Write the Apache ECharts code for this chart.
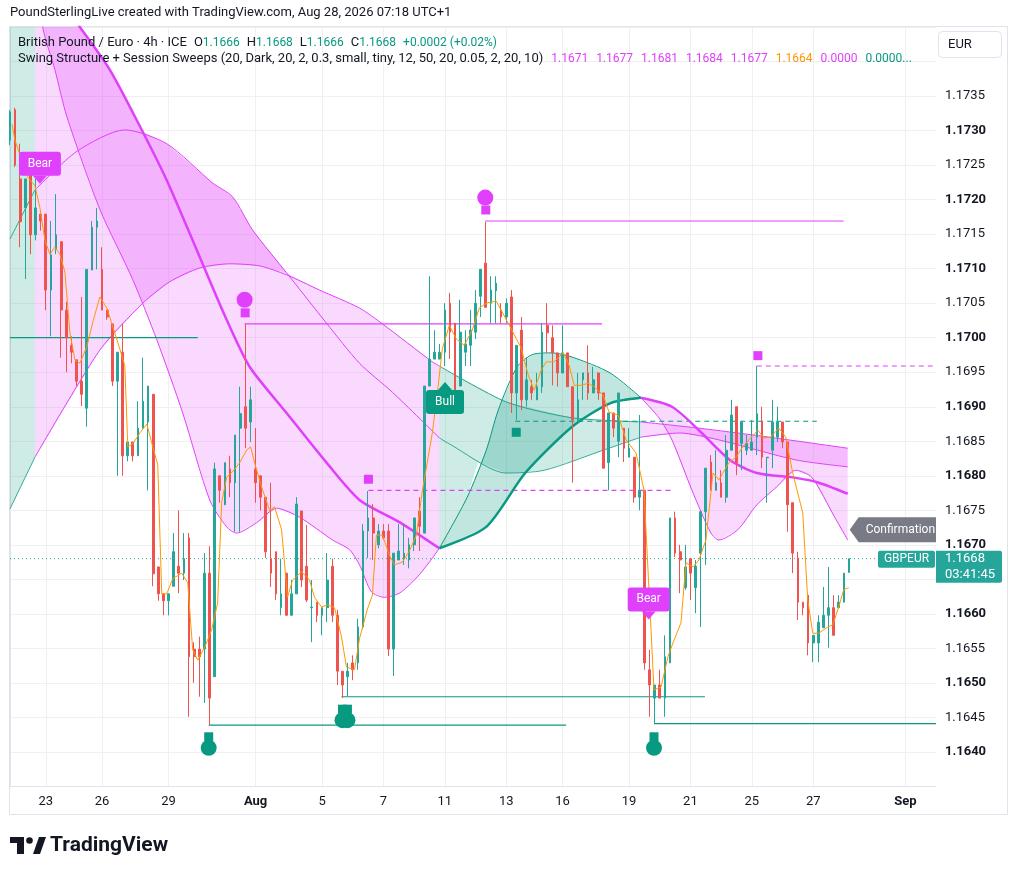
<!DOCTYPE html>
<html><head><meta charset="utf-8">
<script src="https://cdn.jsdelivr.net/npm/echarts/dist/echarts.min.js"></script>
<style>html,body{margin:0;padding:0;background:#fff}#c{width:1017px;height:875px}</style>
</head><body><div id="c"></div>
<script>
// ---------- DATA ----------
// x-axis tick labels (bar index -> label)
const tickIndex = [7, 18, 31, 48, 61, 73, 85, 97, 108, 121, 133, 145, 157, 175];
const tickText  = ['23','26','29','Aug','5','7','11','13','16','19','21','25','27','Sep'];
const barSlots = 182;
// 4h candles: [open, close, low, high]
const candles = [
[1.17286,1.17327,1.17279,1.17330],[1.17330,1.17250,1.17247,1.17333],[1.17230,1.17168,1.17131,1.17281],[1.17188,1.17230,1.17085,1.17230],
[1.17250,1.17149,1.17121,1.17250],[1.17149,1.17188,1.17141,1.17230],[1.17179,1.17169,1.17155,1.17179],[1.17179,1.17069,1.17040,1.17179],
[1.17069,1.17120,1.17002,1.17169],[1.17128,1.17149,1.17121,1.17208],[1.17139,1.17040,1.16971,1.17139],[1.17040,1.17000,1.16950,1.17052],
[1.16989,1.16979,1.16963,1.17002],[1.16968,1.16937,1.16930,1.16968],[1.16937,1.16918,1.16901,1.17059],[1.16898,1.17099,1.16871,1.17099],
[1.17098,1.17160,1.17098,1.17169],[1.17160,1.17169,1.17099,1.17188],[1.17099,1.17040,1.17040,1.17131],[1.17040,1.17030,1.17026,1.17040],
[1.17020,1.16937,1.16930,1.17020],[1.16937,1.16979,1.16800,1.16979],[1.16979,1.16829,1.16800,1.17020],[1.16829,1.16849,1.16821,1.16849],
[1.16849,1.16829,1.16821,1.16849],[1.16829,1.16869,1.16829,1.16908],[1.16869,1.16908,1.16869,1.16971],[1.16878,1.16930,1.16779,1.16930],
[1.16918,1.16658,1.16640,1.16918],[1.16668,1.16629,1.16619,1.16668],[1.16629,1.16619,1.16598,1.16629],[1.16619,1.16629,1.16598,1.16629],
[1.16640,1.16690,1.16640,1.16717],[1.16669,1.16659,1.16630,1.16750],[1.16659,1.16680,1.16649,1.16717],[1.16710,1.16538,1.16451,1.16717],
[1.16549,1.16538,1.16500,1.16559],[1.16549,1.16538,1.16480,1.16567],[1.16549,1.16659,1.16471,1.16688],[1.16659,1.16478,1.16439,1.16698],
[1.16509,1.16810,1.16509,1.16819],[1.16800,1.16779,1.16761,1.16800],[1.16758,1.16819,1.16758,1.16819],[1.16810,1.16790,1.16769,1.16829],
[1.16790,1.16859,1.16719,1.16859],[1.16869,1.16890,1.16719,1.16929],[1.16900,1.16869,1.16840,1.17020],[1.16878,1.16910,1.16849,1.16929],
[1.16810,1.16790,1.16761,1.16869],[1.16800,1.16769,1.16750,1.16800],[1.16769,1.16690,1.16681,1.16769],[1.16680,1.16659,1.16639,1.16790],
[1.16690,1.16629,1.16620,1.16690],[1.16609,1.16629,1.16598,1.16680],[1.16659,1.16598,1.16598,1.16659],[1.16598,1.16629,1.16598,1.16649],
[1.16629,1.16759,1.16629,1.16769],[1.16749,1.16649,1.16639,1.16749],[1.16669,1.16620,1.16617,1.16729],[1.16609,1.16610,1.16559,1.16649],
[1.16617,1.16598,1.16588,1.16617],[1.16598,1.16609,1.16569,1.16609],[1.16609,1.16649,1.16588,1.16688],[1.16669,1.16598,1.16588,1.16680],
[1.16598,1.16517,1.16497,1.16606],[1.16517,1.16497,1.16478,1.16517],[1.16509,1.16517,1.16480,1.16529],[1.16529,1.16519,1.16504,1.16540],
[1.16529,1.16581,1.16519,1.16593],[1.16581,1.16720,1.16578,1.16730],[1.16720,1.16739,1.16681,1.16778],[1.16739,1.16717,1.16678,1.16759],
[1.16700,1.16720,1.16695,1.16730],[1.16720,1.16710,1.16707,1.16730],[1.16720,1.16549,1.16539,1.16730],[1.16549,1.16688,1.16510,1.16688],
[1.16678,1.16691,1.16678,1.16730],[1.16681,1.16688,1.16671,1.16730],[1.16678,1.16700,1.16666,1.16710],[1.16700,1.16739,1.16691,1.16739],
[1.16749,1.16727,1.16691,1.16769],[1.16717,1.16930,1.16717,1.16930],[1.16930,1.16969,1.16930,1.17089],[1.16969,1.16979,1.16969,1.17011],
[1.16969,1.16979,1.16969,1.16991],[1.16979,1.17040,1.16959,1.17050],[1.17050,1.17008,1.16969,1.17065],[1.17021,1.16918,1.16916,1.17021],
[1.16930,1.17008,1.16930,1.17055],[1.16979,1.16991,1.16959,1.17011],[1.16989,1.17011,1.16959,1.17040],[1.17008,1.17050,1.16998,1.17069],
[1.17060,1.17099,1.17030,1.17099],[1.17108,1.17044,1.17044,1.17168],[1.17050,1.17069,1.17021,1.17089],[1.17068,1.17079,1.17021,1.17089],
[1.17040,1.17030,1.17021,1.17050],[1.17030,1.17050,1.17021,1.17057],[1.17059,1.16920,1.16891,1.17069],[1.16920,1.16989,1.16881,1.16989],
[1.17011,1.16910,1.16895,1.17030],[1.16910,1.16939,1.16900,1.16972],[1.16929,1.16920,1.16910,1.16939],[1.16910,1.16929,1.16910,1.16949],
[1.16929,1.17008,1.16920,1.17021],[1.17018,1.17007,1.16978,1.17050],[1.17000,1.16978,1.16931,1.17018],[1.16978,1.16949,1.16929,1.16978],
[1.16949,1.16978,1.16949,1.17018],[1.16978,1.16929,1.16929,1.16978],[1.16929,1.16881,1.16790,1.16929],[1.16878,1.16910,1.16878,1.16949],
[1.16939,1.16949,1.16910,1.16949],[1.16949,1.16920,1.16910,1.16989],[1.16920,1.16939,1.16920,1.16958],[1.16949,1.16920,1.16910,1.16949],
[1.16920,1.16811,1.16811,1.16920],[1.16819,1.16891,1.16779,1.16891],[1.16891,1.16869,1.16856,1.16891],[1.16850,1.16920,1.16827,1.16920],
[1.16869,1.16840,1.16820,1.16869],[1.16827,1.16840,1.16827,1.16869],[1.16827,1.16769,1.16761,1.16827],[1.16769,1.16779,1.16750,1.16888],
[1.16779,1.16529,1.16519,1.16779],[1.16519,1.16497,1.16451,1.16548],[1.16478,1.16497,1.16441,1.16497],[1.16497,1.16478,1.16478,1.16519],
[1.16478,1.16538,1.16451,1.16569],[1.16529,1.16739,1.16529,1.16739],[1.16739,1.16688,1.16682,1.16748],[1.16690,1.16678,1.16630,1.16700],
[1.16638,1.16668,1.16635,1.16700],[1.16680,1.16659,1.16620,1.16680],[1.16638,1.16669,1.16601,1.16678],[1.16688,1.16748,1.16581,1.16748],
[1.16748,1.16811,1.16671,1.16811],[1.16820,1.16779,1.16779,1.16830],[1.16779,1.16790,1.16779,1.16837],[1.16790,1.16769,1.16769,1.16808],
[1.16769,1.16837,1.16761,1.16859],[1.16837,1.16888,1.16837,1.16910],[1.16900,1.16819,1.16801,1.16900],[1.16847,1.16878,1.16808,1.16878],
[1.16837,1.16847,1.16830,1.16859],[1.16837,1.16849,1.16837,1.16881],[1.16856,1.16890,1.16830,1.16959],[1.16878,1.16827,1.16811,1.16900],
[1.16826,1.16827,1.16761,1.16827],[1.16837,1.16878,1.16811,1.16910],[1.16856,1.16878,1.16849,1.16900],[1.16878,1.16849,1.16840,1.16878],
[1.16849,1.16758,1.16719,1.16849],[1.16761,1.16688,1.16659,1.16761],[1.16681,1.16617,1.16591,1.16690],[1.16617,1.16609,1.16598,1.16617],
[1.16627,1.16558,1.16540,1.16627],[1.16558,1.16569,1.16530,1.16569],[1.16558,1.16588,1.16530,1.16598],[1.16580,1.16598,1.16580,1.16639],
[1.16598,1.16609,1.16551,1.16668],[1.16609,1.16569,1.16569,1.16627],[1.16609,1.16617,1.16609,1.16627],[1.16617,1.16659,1.16617,1.16659],
[1.1666,1.1668,1.1666,1.1668]
];
const lastPrice = 1.1668;

// fast average (orange): [bar index, price]
const fastLine = [[0.39,1.17309],[0.98,1.17286],[3.32,1.17234],[4.88,1.17220],[5.85,1.17188],[6.83,1.17141],[7.81,1.17121],[8.78,1.17131],[9.76,1.17121],[10.73,1.17095],[11.71,1.17007],[12.69,1.16968],[13.66,1.16963],[15.03,1.16987],[16.2,1.17023],[17.56,1.17059],[18.93,1.17043],[20.49,1.17007],[22.44,1.16960],[23.03,1.16842],[24.0,1.16846],[25.37,1.16862],[26.74,1.16875],[27.91,1.16842],[28.88,1.16816],[29.66,1.16629],[30.64,1.16629],[31.81,1.16651],[33.57,1.16659],[34.74,1.16645],[35.71,1.16548],[36.69,1.16533],[38.06,1.16552],[39.42,1.16577],[40.59,1.16616],[41.37,1.16761],[42.35,1.16798],[43.52,1.16806],[44.89,1.16819],[46.25,1.16837],[47.03,1.16842],[47.81,1.16819],[49.18,1.16784],[50.74,1.16750],[51.72,1.16755],[53.08,1.16722],[54.25,1.16624],[55.23,1.16649],[56.99,1.16661],[58.55,1.16649],[59.52,1.16624],[60.89,1.16610],[62.06,1.16613],[63.43,1.16609],[64.79,1.16567],[65.77,1.16523],[67.33,1.16519],[68.31,1.16564],[69.87,1.16607],[70.84,1.16627],[71.62,1.16714],[72.8,1.16714],[74.16,1.16685],[75.14,1.16671],[76.7,1.16675],[78.06,1.16691],[79.43,1.16714],[80.6,1.16778],[82.55,1.16862],[83.53,1.16920],[84.51,1.16984],[85.87,1.17018],[87.24,1.16998],[88.8,1.16989],[90.36,1.17011],[91.73,1.17043],[93.09,1.17050],[95.04,1.17053],[96.21,1.17037],[97.58,1.17018],[99.92,1.16985],[101.29,1.16946],[102.46,1.16924],[103.83,1.16953],[104.8,1.16965],[106.36,1.16965],[108.12,1.16978],[109.29,1.16960],[110.27,1.16931],[111.63,1.16931],[113.0,1.16934],[114.17,1.16929],[115.93,1.16917],[117.1,1.16892],[118.86,1.16888],[120.42,1.16852],[122.37,1.16833],[123.93,1.16779],[124.9,1.16635],[125.88,1.16490],[127.25,1.16494],[128.61,1.16538],[129.59,1.16558],[131.15,1.16587],[132.13,1.16674],[133.49,1.16668],[134.66,1.16678],[136.03,1.16707],[137.4,1.16804],[138.56,1.16794],[140.52,1.16819],[141.89,1.16827],[143.25,1.16842],[144.42,1.16852],[146.18,1.16866],[147.35,1.16855],[148.71,1.16856],[150.27,1.16869],[151.64,1.16856],[153.0,1.16804],[154.96,1.16746],[155.93,1.16620],[156.91,1.16572],[158.08,1.16572],[159.83,1.16581],[160.81,1.16584],[161.98,1.16610],[162.96,1.16635],[163.93,1.16638]];

// band curves: [bar index, price]
const arcHigh = [[0,1.17143],[4.88,1.17214],[13.08,1.17270],[22.44,1.17301],[30.64,1.17281],[39.62,1.17224],[43.52,1.17204],[47.42,1.17156],[54.06,1.17094],[61.87,1.17021],[68.31,1.16963],[74.75,1.16921],[83.92,1.16855],[85.68,1.16847],[96.99,1.16804],[104.41,1.16808],[115.93,1.16837],[123.34,1.16856],[130.95,1.16862],[138.56,1.16852],[153.59,1.16823],[163.74,1.16813]];
const arcLow = [[0,1.16752],[4.88,1.16827],[17.56,1.16982],[25.96,1.17050],[31.23,1.17081],[37.08,1.17101],[42.94,1.17107],[48.79,1.17104],[54.06,1.17091],[60.5,1.17069],[68.31,1.17043],[72.8,1.17020],[82.55,1.16965],[83.92,1.16959],[96.99,1.16907],[109.87,1.16884],[123.34,1.16878],[134.66,1.16869],[146.37,1.16858],[163.74,1.16840]];
const sweepEdge = [[6.0,1.1750],[6.44,1.17448],[8.78,1.17388],[11.12,1.17320],[17.56,1.17186],[24.0,1.17084],[28.69,1.16997],[33.76,1.16891],[39.03,1.16765],[42.35,1.16726],[44.3,1.16717],[48.2,1.16732],[52.11,1.16753],[56.6,1.16740],[63.04,1.16707],[66.35,1.16693],[68.31,1.16671],[70.65,1.16632],[73.19,1.16624],[76.11,1.16630],[79.43,1.16652],[81.97,1.16675],[83.92,1.16695]];
const sweepRight = [[123.34,1.16913],[126.85,1.16884],[129.39,1.16852],[133.3,1.16779],[137.0,1.16717],[138.56,1.16707],[142.27,1.16722],[145.98,1.16758],[149.88,1.16784],[153.59,1.16808],[156.71,1.16798],[161.2,1.16740],[163.74,1.16707]];
const archBull = [[83.92,1.16695],[89.38,1.16769],[93.09,1.16837],[95.43,1.16895],[99.14,1.16958],[102.26,1.16976],[105.97,1.16978],[109.87,1.16972],[117.29,1.16949],[123.34,1.16913]];
const trendBearA = [[12.69,1.17460],[13.66,1.17450],[19.52,1.17388],[25.96,1.17298],[30.64,1.17228],[37.08,1.17117],[42.35,1.17026],[46.84,1.16958],[54.06,1.16891],[61.87,1.16819],[68.31,1.16765],[76.11,1.16733],[83.92,1.16695]];
const trendBull = [[83.92,1.16695],[93.09,1.16726],[100.7,1.16804],[109.87,1.16871],[117.29,1.16905],[123.34,1.16913]];
const trendBearB = [[123.34,1.16913],[129.39,1.16900],[134.66,1.16866],[140.71,1.16823],[145.98,1.16804],[153.59,1.16797],[158.08,1.16790],[163.74,1.16774]];

// filled zones (outlines in bar index / price)
const zonePinkLight = [[4.88,1.1750],[12.2,1.1750],[13.66,1.17450],[19.52,1.17388],[25.96,1.17298],[30.64,1.17281],[39.62,1.17224],[43.52,1.17204],[47.42,1.17156],[54.06,1.17094],[60.5,1.17069],[68.31,1.17043],[72.8,1.17020],[82.55,1.16965],[83.92,1.16959],[83.92,1.16695],[81.97,1.16675],[79.43,1.16652],[76.11,1.16630],[73.19,1.16624],[70.65,1.16632],[68.31,1.16671],[66.35,1.16693],[63.04,1.16707],[56.6,1.16740],[52.11,1.16753],[48.2,1.16732],[44.3,1.16717],[42.35,1.16726],[39.03,1.16765],[33.76,1.16891],[28.69,1.16997],[25.96,1.17050],[17.56,1.16982],[4.88,1.16827]];
const zonePinkDark = [[6.0,1.1750],[12.2,1.1750],[13.66,1.17450],[19.52,1.17388],[25.96,1.17298],[30.64,1.17281],[39.62,1.17224],[43.52,1.17204],[47.42,1.17156],[54.06,1.17094],[48.79,1.17104],[42.94,1.17107],[37.08,1.17101],[31.23,1.17081],[25.96,1.17050],[24.0,1.17084],[17.56,1.17186],[11.12,1.17320],[8.78,1.17388],[6.44,1.17448]];
const zoneTealLeft = [[0,1.1750],[4.88,1.1750],[4.88,1.16827],[0,1.16752]];
const zoneTealLight = [[83.92,1.16959],[96.99,1.16907],[109.87,1.16884],[123.34,1.16878],[123.34,1.16856],[115.93,1.16837],[104.41,1.16808],[96.99,1.16804],[91.5,1.16820],[89.38,1.16769],[83.92,1.16695]];
const zoneTealDark = [[83.92,1.16695],[89.38,1.16769],[93.09,1.16837],[95.43,1.16895],[99.14,1.16958],[102.26,1.16976],[105.97,1.16978],[109.87,1.16972],[117.29,1.16949],[123.34,1.16913],[117.29,1.16905],[109.87,1.16871],[100.7,1.16804],[93.09,1.16726]];
const zonePinkRight = [[123.34,1.16913],[129.39,1.16900],[133.3,1.16870],[146.37,1.16858],[163.74,1.16840],[163.74,1.16707],[161.2,1.16740],[156.71,1.16798],[153.59,1.16808],[149.88,1.16784],[145.98,1.16758],[142.27,1.16722],[138.56,1.16707],[137.0,1.16717],[133.3,1.16779],[129.39,1.16852],[126.85,1.16884]];
const zonePinkStripe = [[123.34,1.16878],[134.66,1.16869],[146.37,1.16858],[163.74,1.16840],[163.74,1.16813],[153.59,1.16823],[138.56,1.16852],[130.95,1.16862],[123.34,1.16856]];

// swing levels: [startIndex, endIndex, price]
const levelsBull = [[0,36.69,1.17000],[38.84,108.7,1.16439],[64.79,135.83,1.16480],[125.88,181,1.16441]];
const levelsBear = [[45.86,115.73,1.17020],[92.9,162.96,1.17169]];
const levelsBearDashed = [[70.06,129.2,1.16779],[145.98,181,1.16959]];
const levelsBullDashed = [[98.75,157.69,1.16879]];

// markers
const pinkCircles = [[45.86,1.17055],[92.9,1.17203]];
const pinkSquares = [[45.96,1.17036],[93.0,1.17185],[70.06,1.16795],[146.18,1.16974]];
const tealSquares = [[98.95,1.16863],[38.84,1.16422],[64.99,1.16462],[65.96,1.16462],[125.88,1.16422]];
const tealCircles = [[38.84,1.16406],[64.99,1.16446],[65.96,1.16446],[125.88,1.16406]];

// text tags: [bar index, price, text, pointer direction]
const tags = [[5.85,1.17223,'Bear','down'],[85.03,1.16936,'Bull','up'],[124.84,1.16592,'Bear','down'],[164.13,1.16722,'Confirmation','left']];

// ---------- CHART ----------
const PINK = '#e040fb', TEAL = '#089981', UP = '#26a69a', DOWN = '#ef5350';
const FONT = 'Roboto, "Noto Sans", sans-serif';
const chart = echarts.init(document.getElementById('c'));
const cats = Array.from({length: barSlots}, (_, i) => String(i));
const showTick = (i) => tickIndex.indexOf(i) >= 0;

function seg(arr, a, b) { return arr.filter(p => p[0] >= a - 1e-9 && p[0] <= b + 1e-9); }
function lineSeries(data, color, width, extra) {
  return Object.assign({
    type: 'line', xAxisIndex: 1, yAxisIndex: 0, data: data, showSymbol: false, silent: true,
    smooth: 0.25, lineStyle: {color: color, width: width}, z: 3, animation: false
  }, extra || {});
}
const zones = [
  [zoneTealLeft, 'rgba(8,153,129,0.2)'],
  [zonePinkLight, 'rgba(224,64,251,0.2)'],
  [zonePinkDark, 'rgba(224,64,251,0.24)'],
  [zoneTealLight, 'rgba(8,153,129,0.2)'],
  [zoneTealDark, 'rgba(8,153,129,0.25)'],
  [zonePinkRight, 'rgba(224,64,251,0.2)'],
  [zonePinkStripe, 'rgba(224,64,251,0.2)']
];

const series = [];
series.push({
  type: 'custom', xAxisIndex: 1, yAxisIndex: 0, clip: true, silent: true, z: 1,
  data: zones.map((z, i) => [i, 1.17]),
  encode: {x: 0, y: 1},
  renderItem: (params, api) => {
    const z = zones[params.dataIndex];
    return {type: 'polygon', shape: {points: z[0].map(p => api.coord(p))}, style: {fill: z[1]}};
  }
});
// thin band edges
series.push(lineSeries(seg(arcHigh, 0, 4.88), TEAL, 1, {lineStyle: {color: TEAL, width: 1, opacity: 0.8}}));
series.push(lineSeries(seg(arcHigh, 4.88, 83.92), PINK, 1));
series.push(lineSeries(seg(arcHigh, 83.92, 123.34), TEAL, 1, {lineStyle: {color: TEAL, width: 1, opacity: 0.8}}));
series.push(lineSeries(seg(arcHigh, 123.34, 200), PINK, 1));
series.push(lineSeries(seg(arcLow, 0, 4.88), TEAL, 1, {lineStyle: {color: TEAL, width: 1, opacity: 0.8}}));
series.push(lineSeries(seg(arcLow, 4.88, 83.92), PINK, 1));
series.push(lineSeries(seg(arcLow, 83.92, 123.34), TEAL, 1, {lineStyle: {color: TEAL, width: 1, opacity: 0.8}}));
series.push(lineSeries(seg(arcLow, 123.34, 200), PINK, 1));
series.push(lineSeries(sweepEdge, PINK, 1));
series.push(lineSeries(sweepRight, PINK, 1));
series.push(lineSeries(archBull, TEAL, 1));
// levels
levelsBull.forEach(l => series.push(lineSeries([[l[0], l[2]], [l[1], l[2]]], TEAL, 1.2, {smooth: false})));
levelsBear.forEach(l => series.push(lineSeries([[l[0], l[2]], [l[1], l[2]]], PINK, 1.2, {smooth: false})));
levelsBearDashed.forEach(l => series.push(lineSeries([[l[0], l[2]], [l[1], l[2]]], PINK, 1.2, {smooth: false, lineStyle: {color: PINK, width: 1.2, type: [5, 4]}})));
levelsBullDashed.forEach(l => series.push(lineSeries([[l[0], l[2]], [l[1], l[2]]], TEAL, 1.2, {smooth: false, lineStyle: {color: TEAL, width: 1.2, type: [5, 4]}})));
// current price dotted line
series.push(lineSeries([[0, lastPrice], [181, lastPrice]], UP, 1, {smooth: false, lineStyle: {color: UP, width: 1, type: [1, 3]}}));
// thick trail line
series.push(lineSeries(trendBearA, PINK, 2.5, {z: 4}));
series.push(lineSeries(trendBull, TEAL, 2.5, {z: 4}));
series.push(lineSeries(trendBearB, PINK, 2.5, {z: 4}));
// candles
series.push({
  type: 'candlestick', xAxisIndex: 0, yAxisIndex: 0, data: candles, barWidth: 2.2, z: 5, silent: true,
  itemStyle: {color: UP, color0: DOWN, borderColor: UP, borderColor0: DOWN, borderWidth: 1}
});
// orange fast line
series.push(lineSeries(fastLine, '#ff9800', 1, {smooth: false, z: 6}));
// markers
const sc = (data, symbol, size, color) => ({type: 'scatter', xAxisIndex: 1, yAxisIndex: 0, data: data, symbol: symbol, symbolSize: size, itemStyle: {color: color, opacity: 1}, z: 7, silent: true});
series.push(sc(pinkSquares, 'rect', 9, PINK));
series.push(sc(pinkCircles, 'circle', 16, PINK));
series.push(sc(tealSquares, 'rect', 9, TEAL));
series.push(sc(tealCircles, 'circle', 16, TEAL));
// tags
series.push({
  type: 'custom', xAxisIndex: 1, yAxisIndex: 0, clip: true, silent: true, z: 8,
  data: tags.map(t => [t[0], t[1]]), encode: {x: 0, y: 1},
  renderItem: (params, api) => {
    const t = tags[params.dataIndex];
    const p = api.coord([t[0], t[1]]);
    const tx = p[0], ty = p[1];
    const isBear = t[2] === 'Bear', isBull = t[2] === 'Bull';
    const color = isBear ? PINK : (isBull ? TEAL : '#787b86');
    const kids = [];
    if (t[3] === 'down' || t[3] === 'up') {
      const w = isBear ? 42 : 38, h = 24, a = 8;
      const top = t[3] === 'down' ? ty - a - h : ty + a;
      const base = t[3] === 'down' ? ty - a : ty + a;
      kids.push({type: 'rect', shape: {x: tx - w / 2, y: top, width: w, height: h, r: 3}, style: {fill: color}});
      kids.push({type: 'polygon', shape: {points: [[tx - 7, base], [tx + 7, base], [tx, ty]]}, style: {fill: color}});
      kids.push({type: 'text', style: {text: t[2], x: tx, y: top + h / 2, fill: '#fff', fontSize: 12, fontFamily: FONT, align: 'center', verticalAlign: 'middle', textAlign: 'center', textVerticalAlign: 'middle'}});
    } else {
      const h = 25;
      kids.push({type: 'polygon', shape: {points: [[tx, ty], [tx + 9, ty - h / 2], [tx + 120, ty - h / 2], [tx + 120, ty + h / 2], [tx + 9, ty + h / 2]]}, style: {fill: color}});
      kids.push({type: 'text', style: {text: t[2], x: tx + 16, y: ty, fill: '#fff', fontSize: 12, fontFamily: FONT, align: 'left', verticalAlign: 'middle', textAlign: 'left', textVerticalAlign: 'middle'}});
    }
    return {type: 'group', children: kids};
  }
});
// price tag on the axis
series.push({
  type: 'custom', xAxisIndex: 1, yAxisIndex: 0, clip: false, silent: true, z: 9,
  data: [[181, lastPrice]], encode: {x: 0, y: 1},
  renderItem: (params, api) => {
    const p = api.coord([181, lastPrice]);
    const x0 = p[0], y = p[1];
    return {type: 'group', children: [
      {type: 'rect', shape: {x: x0 - 58, y: y - 8, width: 57, height: 17, r: 2}, style: {fill: UP}},
      {type: 'text', style: {text: 'GBPEUR', x: x0 - 29.5, y: y + 0.5, fill: '#fff', fontSize: 12, fontFamily: FONT, align: 'center', verticalAlign: 'middle', textAlign: 'center', textVerticalAlign: 'middle'}},
      {type: 'rect', shape: {x: x0, y: y - 8, width: 66, height: 32, r: [0, 2, 2, 0]}, style: {fill: UP}},
      {type: 'text', style: {text: lastPrice.toFixed(4), x: x0 + 9, y: y + 0.5, fill: '#fff', fontSize: 13, fontFamily: FONT, align: 'left', verticalAlign: 'middle', textAlign: 'left', textVerticalAlign: 'middle'}},
      {type: 'text', style: {text: '03:41:45', x: x0 + 9, y: y + 16, fill: '#fff', fontSize: 13, fontFamily: FONT, align: 'left', verticalAlign: 'middle', textAlign: 'left', textVerticalAlign: 'middle'}}
    ]};
  }
});

const gridColor = '#f0f0f0';
const LF = 13, VF = 12;
const option = {
  animation: false,
  backgroundColor: '#ffffff',
  textStyle: {fontFamily: FONT},
  grid: {left: 10, right: 81, top: 27, bottom: 88.5, containLabel: false},
  xAxis: [{
    type: 'category', data: cats, boundaryGap: false, gridIndex: 0,
    axisLine: {show: true, lineStyle: {color: '#e0e3eb'}},
    axisTick: {show: false},
    axisLabel: {
      interval: (i) => showTick(i), margin: 9, fontSize: 13, color: '#131722',
      formatter: (v, i) => { const k = tickIndex.indexOf(Number(v)); if (k < 0) return ''; const s = tickText[k]; return isNaN(Number(s)) ? '{b|' + s + '}' : s; },
      rich: {b: {fontWeight: 'bold', fontSize: 13, color: '#131722'}}
    },
    splitLine: {show: true, interval: (i) => showTick(i), lineStyle: {color: gridColor, width: 1}}
  }, {
    type: 'value', min: 0, max: 181, gridIndex: 0, show: false
  }],
  yAxis: [{
    type: 'value', position: 'right', min: 1.1635, max: 1.1745, interval: 0.0005, scale: true,
    axisLine: {show: true, lineStyle: {color: '#e0e3eb'}},
    axisTick: {show: false},
    splitLine: {show: true, lineStyle: {color: gridColor, width: 1}},
    axisLabel: {
      margin: 9, fontSize: 13, color: '#131722',
      formatter: (v) => {
        if (v < 1.16395 || v > 1.17355) return '';
        const s = v.toFixed(4);
        if (s === '1.1665') return '';
        const bold = Math.round(v * 10000) % 10 === 0;
        return bold ? '{b|' + s + '}' : '{n|' + s + '}';
      },
      rich: {b: {fontWeight: 'bold', fontSize: 13, color: '#131722'}, n: {fontSize: 13, color: '#131722'}}
    }
  }],
  graphic: [
    {type: 'rect', shape: {x: 9.5, y: 26.5, width: 998, height: 788}, style: {fill: 'none', stroke: '#e0e3eb', lineWidth: 1}, z: 0, silent: true},
    {type: 'text', x: 10, y: 13, style: {text: 'PoundSterlingLive created with TradingView.com, Aug 28, 2026 07:18 UTC+1', fill: '#131722', fontSize: 13, fontFamily: FONT, verticalAlign: 'middle', textVerticalAlign: 'middle'}, z: 20},
    {type: 'text', x: 18, y: 43, z: 20, style: {
      text: '{n|British Pound / Euro · 4h · ICE}{k|O}{g|1.1666}{k|H}{g|1.1668}{k|L}{g|1.1666}{k|C}{g|1.1668}{c|+0.0002 (+0.02%)}',
      verticalAlign: 'middle', textVerticalAlign: 'middle', fontSize: LF, fontFamily: FONT,
      rich: {
        n: {fill: '#131722', color: '#131722', fontSize: LF, fontFamily: FONT},
        k: {fill: '#131722', color: '#131722', fontSize: LF, fontFamily: FONT, padding: [0, 0, 0, 7]},
        g: {fill: TEAL, color: TEAL, fontSize: VF, fontFamily: FONT},
        c: {fill: TEAL, color: TEAL, fontSize: VF, fontFamily: FONT, padding: [0, 0, 0, 7]}
      }}},
    {type: 'text', x: 18, y: 59, z: 20, style: {
      text: '{n|Swing Structure + Session Sweeps (20, Dark, 20, 2, 0.3, small, tiny, 12, 50, 20, 0.05, 2, 20, 10)}{p|1.1671}{p|1.1677}{p|1.1681}{p|1.1684}{p|1.1677}{o|1.1664}{p|0.0000}{t|0.0000...}',
      verticalAlign: 'middle', textVerticalAlign: 'middle', fontSize: LF, fontFamily: FONT,
      rich: {
        n: {fill: '#131722', color: '#131722', fontSize: LF, fontFamily: FONT},
        p: {fill: PINK, color: PINK, fontSize: VF, fontFamily: FONT, padding: [0, 0, 0, 8]},
        o: {fill: '#ff9800', color: '#ff9800', fontSize: VF, fontFamily: FONT, padding: [0, 0, 0, 8]},
        t: {fill: TEAL, color: TEAL, fontSize: VF, fontFamily: FONT, padding: [0, 0, 0, 8]}
      }}},
    {type: 'rect', shape: {x: 938.5, y: 31.5, width: 63, height: 26, r: 4}, style: {fill: '#fff', stroke: '#e0e3eb', lineWidth: 1}, z: 20},
    {type: 'text', x: 948, y: 44.5, style: {text: 'EUR', fill: '#131722', fontSize: 13, fontFamily: FONT, verticalAlign: 'middle', textVerticalAlign: 'middle'}, z: 21},
    // TradingView logo
    {type: 'group', x: 0, y: 0, z: 20, children: [
      {type: 'rect', shape: {x: 10, y: 837, width: 14, height: 6}, style: {fill: '#131722'}},
      {type: 'rect', shape: {x: 17, y: 837, width: 7, height: 17}, style: {fill: '#131722'}},
      {type: 'circle', shape: {cx: 29.5, cy: 840.5, r: 3.3}, style: {fill: '#131722'}},
      {type: 'polygon', shape: {points: [[33, 854], [39, 837], [46, 837], [40, 854]]}, style: {fill: '#131722'}},
      {type: 'text', x: 50, y: 846, style: {text: 'TradingView', fill: '#131722', fontSize: 21, fontWeight: 'bold', fontFamily: FONT, verticalAlign: 'middle', textVerticalAlign: 'middle'}}
    ]}
  ],
  series: series
};
chart.setOption(option);
</script>
</body></html>
